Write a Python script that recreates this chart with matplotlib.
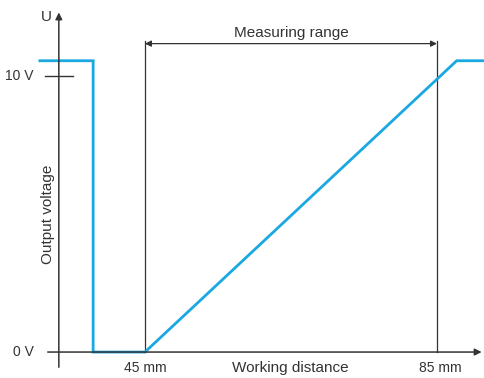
import numpy as np
import matplotlib
matplotlib.use('Agg')
import matplotlib.pyplot as plt

plt.rcParams['font.family'] = ['Liberation Sans', 'DejaVu Sans']

# output curve (distance in mm, voltage in V)
dist_mm = [30.6, 37.9, 37.9, 45.0, 87.7, 91.6]
volt = [10.55, 10.55, 0.0, 0.0, 10.55, 10.55]

range_start = 45
range_end = 85
tick_labels_x = ['45 mm', '85 mm']
tick_labels_y = ['0 V', '10 V']

blue = '#1aa8e2'
ink = '#333333'

fig = plt.figure(figsize=(4.85, 3.78), dpi=100)
ax = fig.add_axes([0, 0, 1, 1])
ax.set_xlim(25.14, 91.58)
ax.set_ylim(-0.94, 12.75)
ax.axis('off')

y_axis_x = 33.2
# axes with arrows
ax.annotate('', xy=(y_axis_x, 12.4), xytext=(y_axis_x, -0.65),
            arrowprops=dict(arrowstyle='-|>', color=ink, lw=1.1, mutation_scale=10))
ax.annotate('', xy=(91.5, 0), xytext=(31.3, 0),
            arrowprops=dict(arrowstyle='-|>', color=ink, lw=1.1, mutation_scale=10))

# 10 V tick
ax.plot([31.3, 35.1], [10, 10], color=ink, lw=1.0)

# measuring range markers
for xr in [range_start, range_end]:
    ax.plot([xr, xr], [0, 11.25], color=ink, lw=0.9)
ax.annotate('', xy=(range_start, 11.17), xytext=(range_end, 11.17),
            arrowprops=dict(arrowstyle='<|-|>', color=ink, lw=0.9, mutation_scale=9,
                            shrinkA=0, shrinkB=0))

ax.plot(dist_mm, volt, color=blue, lw=2.0, solid_joinstyle='miter')

fs = 11
ax.text((range_start + range_end) / 2, 11.55, 'Measuring range', ha='center', va='center',
        fontsize=fs, color=ink)
ax.text(64.9, -0.58, 'Working distance', ha='center', va='center', fontsize=fs, color=ink)
ax.text(range_start, -0.58, tick_labels_x[0], ha='center', va='center', fontsize=fs - 1, color=ink)
ax.text(85.4, -0.58, tick_labels_x[1], ha='center', va='center', fontsize=fs - 1, color=ink)
ax.text(28.3, 0, tick_labels_y[0], ha='center', va='center', fontsize=fs - 1, color=ink)
ax.text(27.8, 10, tick_labels_y[1], ha='center', va='center', fontsize=fs - 1, color=ink)
ax.text(31.5, 12.15, 'U', ha='center', va='center', fontsize=fs, color=ink)
ax.text(31.7, 5.0, 'Output voltage', ha='center', va='center', rotation=90,
        fontsize=fs, color=ink)

fig.savefig('out.png', dpi=100)
